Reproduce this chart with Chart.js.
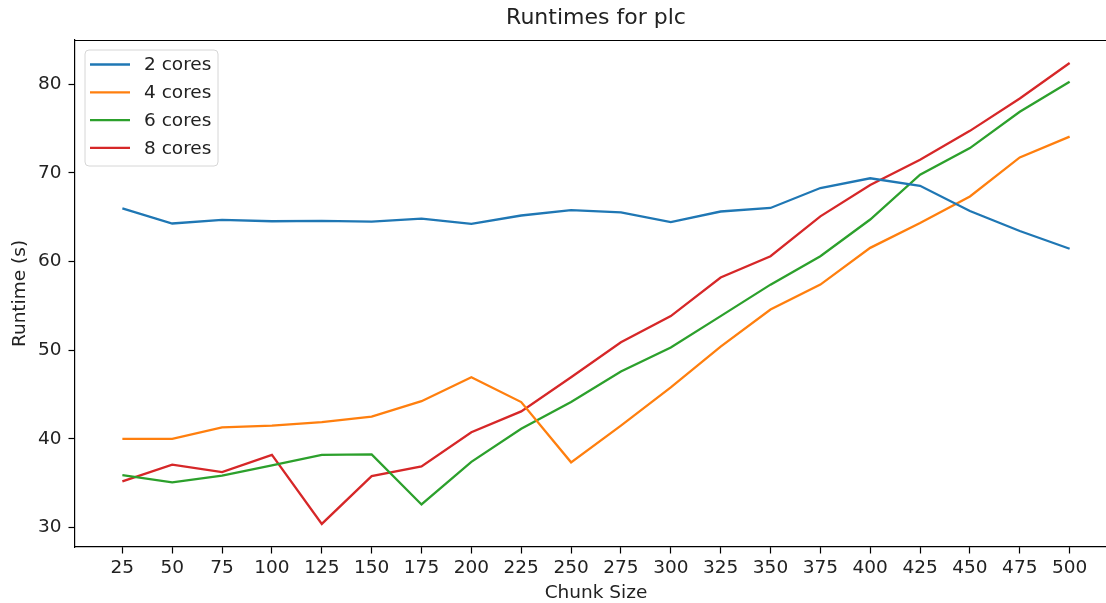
<!DOCTYPE html>
<html>
<head>
<meta charset="utf-8">
<title>Runtimes for plc</title>
<script src="https://cdn.jsdelivr.net/npm/chart.js@4/dist/chart.umd.min.js"></script>
<style>
  html, body { margin: 0; padding: 0; background: #ffffff; overflow: hidden; }
  /* the axes run slightly past the right edge of the page */
  #wrap { width: 1106px; height: 603px; overflow: hidden; position: relative; }
  #chart { display: block; }
</style>
</head>
<body>
<div id="wrap"><canvas id="chart" width="1120" height="603"></canvas></div>
<script>
// Chunk sizes on the x axis
const chunkSizes = [25, 50, 75, 100, 125, 150, 175, 200, 225, 250, 275, 300, 325, 350, 375, 400, 425, 450, 475, 500];

// Runtimes in seconds per core count
const cores2 = [66.0, 64.3, 64.7, 64.55, 64.6, 64.5, 64.85, 64.25, 65.2, 65.8, 65.55, 64.45, 65.65, 66.05, 68.3, 69.4, 68.55, 65.7, 63.45, 61.45];
const cores4 = [40.0, 40.0, 41.3, 41.5, 41.9, 42.5, 44.25, 46.95, 44.15, 37.35, 41.5, 45.8, 50.4, 54.6, 57.4, 61.55, 64.35, 67.35, 71.75, 74.1];
const cores6 = [35.9, 35.1, 35.85, 37.0, 38.2, 38.25, 32.6, 37.4, 41.15, 44.15, 47.6, 50.3, 53.85, 57.4, 60.6, 64.75, 69.8, 72.8, 76.9, 80.3];
const cores8 = [35.2, 37.1, 36.25, 38.2, 30.4, 35.8, 36.9, 40.75, 43.1, 46.95, 50.9, 53.85, 58.2, 60.6, 65.1, 68.65, 71.5, 74.75, 78.4, 82.4];

const seriesLabels = ['2 cores', '4 cores', '6 cores', '8 cores'];
const yTickValues = [30, 40, 50, 60, 70, 80];

const FONT = 'DejaVu Sans';
const TEXT_SIZE = 18.5;
const LINE_W = 2.3;
const palette = ['#1f77b4', '#ff7f0e', '#2ca02c', '#d62728'];

function toPoints(values) {
  return chunkSizes.map((x, i) => ({ x: x, y: values[i] }));
}

const allSeries = [cores2, cores4, cores6, cores8];
const datasets = allSeries.map((vals, i) => ({
  label: seriesLabels[i],
  data: toPoints(vals),
  borderColor: palette[i],
  backgroundColor: palette[i],
  borderWidth: LINE_W,
  pointRadius: 0,
  tension: 0,
  fill: false
}));

// Top and right spines of the axes box
const framePlugin = {
  id: 'frame',
  afterDatasetsDraw(chart) {
    const { ctx, chartArea: a } = chart;
    ctx.save();
    ctx.strokeStyle = '#000';
    ctx.lineWidth = 1.2;
    ctx.beginPath();
    ctx.moveTo(a.left, a.top + 0.5);
    ctx.lineTo(a.right, a.top + 0.5);
    ctx.moveTo(a.right - 0.5, a.top);
    ctx.lineTo(a.right - 0.5, a.bottom);
    ctx.stroke();
    ctx.restore();
  }
};

// Legend box drawn inside the plot, upper-left corner
const innerLegend = {
  id: 'innerLegend',
  afterDraw(chart) {
    const { ctx, chartArea: a } = chart;
    const x0 = a.left + 10, y0 = a.top + 10;
    const w = 133, h = 116, r = 4;
    ctx.save();
    ctx.beginPath();
    ctx.moveTo(x0 + r, y0);
    ctx.lineTo(x0 + w - r, y0);
    ctx.quadraticCurveTo(x0 + w, y0, x0 + w, y0 + r);
    ctx.lineTo(x0 + w, y0 + h - r);
    ctx.quadraticCurveTo(x0 + w, y0 + h, x0 + w - r, y0 + h);
    ctx.lineTo(x0 + r, y0 + h);
    ctx.quadraticCurveTo(x0, y0 + h, x0, y0 + h - r);
    ctx.lineTo(x0, y0 + r);
    ctx.quadraticCurveTo(x0, y0, x0 + r, y0);
    ctx.closePath();
    ctx.fillStyle = 'rgba(255,255,255,0.8)';
    ctx.fill();
    ctx.strokeStyle = '#d6d6d6';
    ctx.lineWidth = 1;
    ctx.stroke();

    ctx.font = TEXT_SIZE + 'px "' + FONT + '"';
    ctx.textBaseline = 'middle';
    ctx.textAlign = 'left';
    chart.data.datasets.forEach((ds, i) => {
      const cy = y0 + 14.5 + i * 27.8;
      ctx.strokeStyle = ds.borderColor;
      ctx.lineWidth = LINE_W;
      ctx.beginPath();
      ctx.moveTo(x0 + 5, cy);
      ctx.lineTo(x0 + 45, cy);
      ctx.stroke();
      ctx.fillStyle = '#222';
      ctx.fillText(ds.label, x0 + 59, cy + 1);
    });
    ctx.restore();
  }
};

new Chart(document.getElementById('chart'), {
  type: 'line',
  data: { datasets: datasets },
  options: {
    responsive: false,
    devicePixelRatio: 1,
    animation: false,
    layout: { padding: { left: 0, right: 3, top: 0, bottom: 0 } },
    plugins: {
      legend: { display: false },
      tooltip: { enabled: false },
      title: {
        display: true,
        text: 'Runtimes for plc',
        fullSize: false,
        color: '#222',
        font: { family: FONT, size: 22, weight: 'normal', lineHeight: 1.2 },
        padding: { top: 5, bottom: 8.6 }
      }
    },
    scales: {
      x: {
        type: 'linear',
        min: 1.25,
        max: 523.75,
        afterBuildTicks(scale) {
          scale.ticks = chunkSizes.map(v => ({ value: v }));
        },
        afterFit(scale) { scale.height = 56; },
        grid: { drawOnChartArea: false, drawTicks: true, tickLength: 6.5, tickColor: '#000', tickWidth: 1.2 },
        border: { display: true, color: '#000', width: 1.2 },
        ticks: {
          color: '#222',
          font: { family: FONT, size: TEXT_SIZE },
          padding: 4,
          maxRotation: 0,
          autoSkip: false,
          callback: v => String(v)
        },
        title: {
          display: true,
          text: 'Chunk Size',
          color: '#222',
          font: { family: FONT, size: TEXT_SIZE },
          padding: { top: 0, bottom: -1 }
        }
      },
      y: {
        type: 'linear',
        min: 27.8,
        max: 85.0,
        afterBuildTicks(scale) {
          scale.ticks = yTickValues.map(v => ({ value: v }));
        },
        afterFit(scale) { scale.width = 75; },
        grid: { drawOnChartArea: false, drawTicks: true, tickLength: 6.5, tickColor: '#000', tickWidth: 1.2 },
        border: { display: true, color: '#000', width: 1.2 },
        ticks: {
          color: '#222',
          font: { family: FONT, size: TEXT_SIZE },
          padding: 7,
          callback: v => String(v)
        },
        title: {
          display: true,
          text: 'Runtime (s)',
          color: '#222',
          font: { family: FONT, size: TEXT_SIZE },
          padding: { top: 9, bottom: 4 }
        }
      }
    }
  },
  plugins: [framePlugin, innerLegend]
});
</script>
</body>
</html>
